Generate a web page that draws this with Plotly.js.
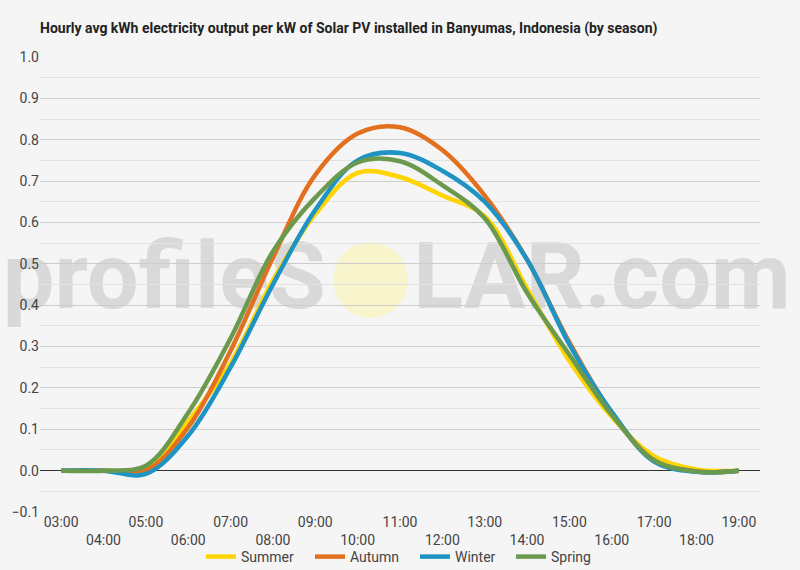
<!DOCTYPE html>
<html>
<head>
<meta charset="utf-8">
<script src="https://cdn.plot.ly/plotly-3.0.1.min.js"></script>
<style>
  html, body { margin: 0; padding: 0; background: #f5f5f5; }
  #chart { width: 800px; height: 570px; }
</style>
</head>
<body>
<div id="chart"></div>
<script>
// ---- data ----
const hours = [3, 4, 5, 6, 7, 8, 9, 10, 11, 12, 13, 14, 15, 16, 17, 18, 19];
const hourLabels = ["03:00","04:00","05:00","06:00","07:00","08:00","09:00","10:00","11:00",
                    "12:00","13:00","14:00","15:00","16:00","17:00","18:00","19:00"];
const summer = [0, 0, 0.005, 0.12, 0.26, 0.46, 0.62, 0.72, 0.71, 0.665, 0.615, 0.44, 0.265, 0.13, 0.035, 0.003, 0];
const autumn = [0, 0, 0.0, 0.105, 0.29, 0.515, 0.715, 0.815, 0.83, 0.775, 0.665, 0.51, 0.31, 0.14, 0.025, -0.002, 0];
const winter = [0, 0, -0.008, 0.085, 0.25, 0.45, 0.63, 0.75, 0.768, 0.725, 0.65, 0.51, 0.305, 0.142, 0.022, -0.003, 0];
const spring = [0, 0, 0.012, 0.14, 0.32, 0.53, 0.66, 0.745, 0.748, 0.69, 0.61, 0.43, 0.28, 0.135, 0.025, -0.002, 0];
const seriesNames = ["Summer", "Autumn", "Winter", "Spring"];
const seriesColors = ["#ffd400", "#e3701e", "#1e94c4", "#6b9a4f"];

const seriesData = [summer, autumn, winter, spring];
const legendIds = ["legend", "legend2", "legend3", "legend4"];
const legendLeftPx = [201, 310, 415, 511];

const traces = seriesData.map((ys, i) => ({
  type: "scatter",
  mode: "lines",
  x: hours,
  y: ys,
  name: seriesNames[i],
  legend: legendIds[i],
  line: { color: seriesColors[i], width: 4.5, shape: "spline", smoothing: 1 },
  hoverinfo: "x+y+name"
}));

// staggered tick labels: even positions on the first row, odd ones on the second
const tickText = hourLabels.map((t, i) => (i % 2 === 0 ? t : "\u00a0<br>" + t));

const layout = {
  width: 800,
  height: 570,
  paper_bgcolor: "#f5f5f5",
  plot_bgcolor: "#f5f5f5",
  margin: { l: 40, r: 40, t: 57, b: 58, autoexpand: false },
  font: { family: "Roboto, sans-serif", size: 14, color: "#444" },
  title: {
    text: "Hourly avg kWh electricity output per kW of Solar PV installed in Banyumas, Indonesia (by season)",
    font: { family: "Roboto, sans-serif", size: 14, color: "#222", weight: "bold" },
    x: 40 / 800, xref: "container", xanchor: "left",
    y: 1 - 28 / 570, yref: "container", yanchor: "middle"
  },
  showlegend: true,
  xaxis: {
    type: "linear",
    range: [2.5, 19.5],
    tickmode: "array",
    tickvals: hours,
    ticktext: tickText,
    showgrid: false,
    zeroline: false,
    showline: false,
    ticks: "",
    automargin: false,
    fixedrange: true
  },
  yaxis: {
    range: [-0.1, 1.0],
    dtick: 0.1,
    tick0: 0,
    tickformat: ".1f",
    showgrid: true,
    gridcolor: "#cccccc",
    gridwidth: 1,
    zeroline: true,
    zerolinecolor: "#333333",
    zerolinewidth: 1,
    showline: false,
    ticks: "",
    automargin: false,
    minor: { dtick: 0.05, tick0: 0, showgrid: true, gridcolor: "#e2e2e2", gridwidth: 1 },
    fixedrange: true
  },
  shapes: [
    {
      type: "rect", xref: "paper", yref: "paper", layer: "below",
      x0: -0.06, x1: 0.405, y0: 0.324, y1: 0.744,
      line: { width: 0 }, fillcolor: "rgba(0,0,0,0)",
      label: { text: "profileS", textposition: "middle right",
               font: { family: "Roboto, sans-serif", size: 92, color: "#d9d9d9", weight: "bold" } }
    },
    {
      type: "circle", xref: "paper", yref: "paper", layer: "below",
      x0: (333 - 40) / 720, x1: (408 - 40) / 720,
      y0: (512 - 318) / 455, y1: (512 - 242) / 455,
      line: { width: 0 }, fillcolor: "#f8f4cc"
    },
    {
      type: "rect", xref: "paper", yref: "paper", layer: "below",
      x0: 0.51, x1: 1.06, y0: 0.324, y1: 0.744,
      line: { width: 0 }, fillcolor: "rgba(0,0,0,0)",
      label: { text: "LAR.com", textposition: "middle left",
               font: { family: "Roboto, sans-serif", size: 92, color: "#d9d9d9", weight: "bold" } }
    }
  ]
};

legendIds.forEach((id, i) => {
  layout[id] = {
    orientation: "h",
    x: legendLeftPx[i] / 800, xanchor: "left", xref: "container",
    y: 1 - 557 / 570, yanchor: "middle", yref: "container",
    font: { family: "Roboto, sans-serif", size: 14, color: "#444" },
    bgcolor: "rgba(0,0,0,0)",
    borderwidth: 0
  };
});

Plotly.newPlot("chart", traces, layout, { displayModeBar: false, responsive: false });
</script>
</body>
</html>
